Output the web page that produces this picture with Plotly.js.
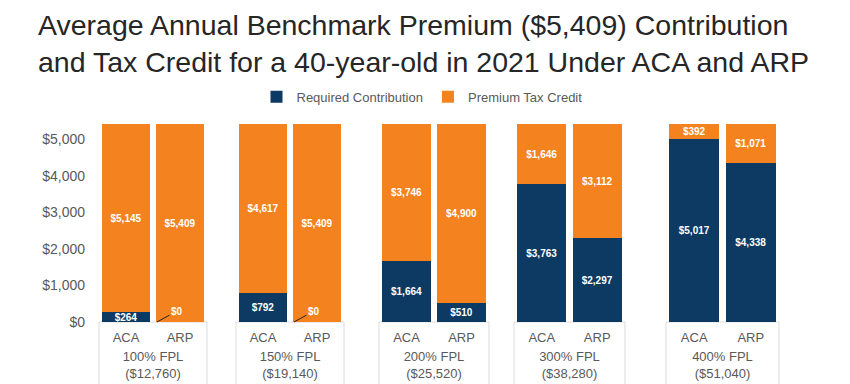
<!DOCTYPE html>
<html>
<head>
<meta charset="utf-8">
<script src="https://cdn.plot.ly/plotly-3.0.1.min.js"></script>
<style>
  html, body { margin: 0; padding: 0; background: #ffffff; }
  #chart { width: 850px; height: 384px; }
</style>
</head>
<body>
<div id="chart"></div>
<script>
// ---- Data ----
const groupLabels = ['100% FPL<br>($12,760)', '150% FPL<br>($19,140)', '200% FPL<br>($25,520)', '300% FPL<br>($38,280)', '400% FPL<br>($51,040)'];
const scenarios = ['ACA', 'ARP'];
const requiredContribution = [[264, 0], [792, 0], [1664, 510], [3763, 2297], [5017, 4338]];
const premiumTaxCredit = [[5145, 5409], [4617, 5409], [3746, 4900], [1646, 3112], [392, 1071]];
const yTicks = [0, 1000, 2000, 3000, 4000, 5000];
const yTickLabels = ['$0', '$1,000', '$2,000', '$3,000', '$4,000', '$5,000'];
const seriesNames = ['Required Contribution', 'Premium Tax Credit'];

// ---- Styling / layout constants ----
const NAVY = '#0c3a63';
const ORANGE = '#f4831f';
const GRAY = '#595959';
const FONT = 'Liberation Sans, Arial, sans-serif';
const panelDomains = [[0, 0.1588], [0.2015, 0.3603], [0.4118, 0.5735], [0.6103, 0.7735], [0.8338, 1.0]];

function fmt(v) { return v > 0 ? '<b>$' + v.toLocaleString('en-US') + '</b>' : ''; }

const traces = [];
const annotations = [];
const shapes = [];
const layout = {
  width: 850, height: 384,
  margin: {l: 99, r: 71, t: 121, b: 62},
  paper_bgcolor: '#ffffff', plot_bgcolor: '#ffffff',
  font: {family: FONT, color: GRAY},
  barmode: 'stack',
  bargap: 0.11,
  showlegend: true,
  legend: {
    orientation: 'h', x: 0.475, xanchor: 'center', y: 1.195, yanchor: 'top',
    font: {size: 13, color: GRAY, family: FONT}, traceorder: 'normal',
    itemwidth: 30, tracegroupgap: 0
  },
  title: {
    text: 'Average Annual Benchmark Premium ($5,409) Contribution<br>and Tax Credit for a 40-year-old in 2021 Under ACA and ARP',
    x: 38 / 850, xanchor: 'left', xref: 'container',
    y: 0.91, yanchor: 'top', yref: 'container',
    font: {size: 28.5, color: '#262626', family: FONT}
  },
  yaxis: {
    domain: [0, 1], range: [0, 5500], anchor: 'x',
    tickmode: 'array', tickvals: yTicks, ticktext: yTickLabels,
    showgrid: false, zeroline: false, showline: false, ticks: '',
    tickfont: {size: 14, color: GRAY, family: FONT},
    ticklabelstandoff: 13
  },
  annotations: annotations,
  shapes: shapes
};

groupLabels.forEach((g, i) => {
  const ax = i === 0 ? 'x' : 'x' + (i + 1);
  const axKey = i === 0 ? 'xaxis' : 'xaxis' + (i + 1);
  layout[axKey] = {
    domain: panelDomains[i], anchor: 'y', type: 'category',
    categoryarray: scenarios, categoryorder: 'array', range: [-0.5, 1.5],
    showgrid: false, zeroline: false, showline: false, ticks: '',
    tickfont: {size: 13, color: GRAY, family: FONT},
    ticklabelstandoff: 6,
    title: {text: g, font: {size: 13, color: GRAY, family: FONT}, standoff: 7}
  };
  traces.push({
    type: 'bar', x: scenarios, y: requiredContribution[i], xaxis: ax, yaxis: 'y',
    name: seriesNames[0], legendgroup: 'rc', showlegend: i === 0,
    marker: {color: NAVY},
    text: requiredContribution[i].map(fmt), textposition: 'inside',
    insidetextanchor: 'middle', constraintext: 'none', textangle: 0,
    textfont: {color: '#ffffff', size: 10, family: FONT},
    hoverinfo: 'none'
  });
  traces.push({
    type: 'bar', x: scenarios, y: premiumTaxCredit[i], xaxis: ax, yaxis: 'y',
    name: seriesNames[1], legendgroup: 'ptc', showlegend: i === 0,
    marker: {color: ORANGE},
    text: premiumTaxCredit[i].map(fmt), textposition: 'inside',
    insidetextanchor: 'middle', constraintext: 'none', textangle: 0,
    textfont: {color: '#ffffff', size: 10, family: FONT},
    hoverinfo: 'none'
  });
  // category box below each panel
  shapes.push({
    type: 'rect', xref: ax + ' domain', yref: 'paper',
    x0: 0, x1: 1, y0: 0, y1: -0.4,
    line: {color: '#dcdcdc', width: 1}, fillcolor: 'rgba(0,0,0,0)', layer: 'below'
  });
  // $0 call-out labels
  requiredContribution[i].forEach((v, j) => {
    if (v === 0) {
      annotations.push({
        xref: ax, yref: 'y', x: scenarios[j], y: 0, xshift: -23,
        text: '<b>$0</b>', showarrow: true, arrowhead: 0, arrowwidth: 1,
        arrowcolor: '#222222', ax: 20, ay: -11, standoff: 0,
        font: {color: '#ffffff', size: 10, family: FONT}
      });
    }
  });
});

Plotly.newPlot('chart', traces, layout, {displayModeBar: false, staticPlot: true});
</script>
</body>
</html>
